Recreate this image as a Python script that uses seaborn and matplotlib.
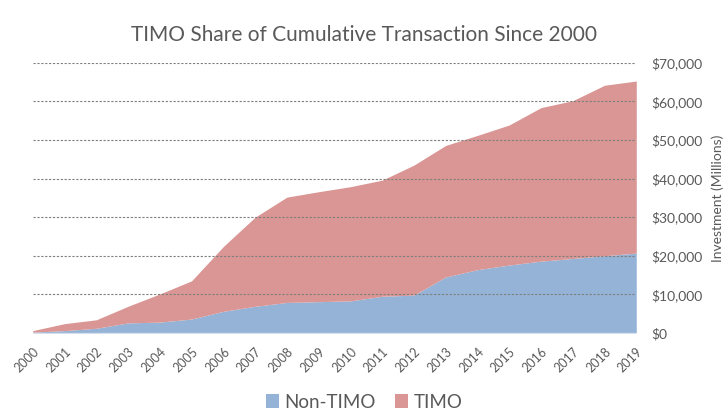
import matplotlib
matplotlib.use("Agg")
import matplotlib.pyplot as plt
import seaborn as sns
from matplotlib.ticker import FuncFormatter
from matplotlib.patches import Patch

years = list(range(2000, 2020))
non_timo = [200, 600, 1200, 2600, 2800, 3600, 5600, 6900, 7900, 8100,
            8300, 9500, 9800, 14500, 16400, 17600, 18600, 19300, 20000, 20700]
total = [600, 2400, 3400, 6900, 10100, 13500, 22400, 30000, 35200, 36600,
         37900, 39600, 43500, 48600, 51200, 53900, 58400, 60200, 64200, 65300]
timo = [t - n for t, n in zip(total, non_timo)]

series_names = ["Non-TIMO", "TIMO"]
colors = ["#95B3D7", "#D99694"]
y_ticks = list(range(0, 70001, 10000))

sns.set_style("white")
plt.rcParams["font.family"] = ["Lato", "DejaVu Sans"]
text_color = "#595959"

fig = plt.figure(figsize=(7.28, 4.11), dpi=100)
ax = fig.add_axes([0.045, 0.19, 0.829, 0.657])

ax.stackplot(years, non_timo, timo, colors=colors, linewidth=0, zorder=2)

# dotted gridlines drawn on top of the areas
for y in y_ticks[1:]:
    ax.axhline(y, color="#7f7f7f", linestyle=(0, (2, 1.5)), linewidth=0.8, zorder=3)
ax.axhline(0, color="#d9d9d9", linewidth=1, zorder=3)

ax.set_xlim(2000, 2019)
ax.set_ylim(0, 70000)
ax.set_yticks(y_ticks)
ax.yaxis.tick_right()
ax.yaxis.set_label_position("right")
ax.yaxis.set_major_formatter(FuncFormatter(lambda v, p: f"${v:,.0f}"))
ax.set_xticks(years)
ax.set_xticklabels([str(y) for y in years], rotation=45, ha="right",
                   rotation_mode="anchor")
ax.tick_params(axis="both", length=0, colors=text_color)
ax.tick_params(axis="y", labelsize=10, pad=11)
ax.tick_params(axis="x", labelsize=9, pad=9)
ax.set_ylabel("Investment (Millions)", color=text_color, fontsize=10)
ax.yaxis.set_label_coords(1.135, 0.5)
ax.yaxis.label.set_va("center")
for s in ax.spines.values():
    s.set_visible(False)

fig.suptitle("TIMO Share of Cumulative Transaction Since 2000", x=0.5, y=0.94,
             fontsize=15, color=text_color)

handles = [Patch(facecolor=c, edgecolor="none") for c in colors]
fig.legend(handles, series_names, loc="lower center", bbox_to_anchor=(0.5, -0.04),
           ncol=2, frameon=False, fontsize=13.5, handlelength=0.7, handleheight=0.7,
           handletextpad=0.3, columnspacing=1.0, labelcolor=text_color)

fig.savefig("out.png", dpi=100)
